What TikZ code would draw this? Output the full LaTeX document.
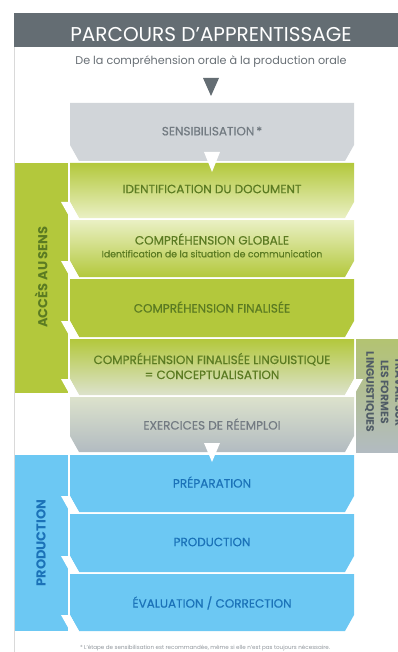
\documentclass[tikz,border=0pt]{standalone}
\usepackage{fontspec}
\setmainfont{Poppins}
\newfontfamily\poppinsmoyen{Poppins}[FakeBold=0.5]
\usetikzlibrary{positioning,calc}

\definecolor{entete}{HTML}{646D73}
\definecolor{vertfonce}{HTML}{B3C83C}
\definecolor{vertpale}{HTML}{EAF0C4}
\definecolor{textevert}{HTML}{5B7B22}
\definecolor{grisclair}{HTML}{D1D5D9}
\definecolor{grismoyen}{HTML}{B2BBC1}
\definecolor{grisvert}{HTML}{DCE2CC}
\definecolor{textegris}{HTML}{737B82}
\definecolor{textebarre}{HTML}{505C66}
\definecolor{bleu}{HTML}{6CC8F3}
\definecolor{textebleu}{HTML}{1B72B8}

\begin{document}
\begin{tikzpicture}[x=1pt, y=-1pt,
    etiquette/.style={font=\poppinsmoyen\fontsize{12}{15}\selectfont, align=center},
    petite/.style={font=\poppinsmoyen\fontsize{9.3}{11}\selectfont},
    barre/.style={font=\bfseries\fontsize{13}{15}\selectfont}]
    % 定义主要尺寸
    \def\gauche{70}
    \def\droite{354}
    \def\biseau{9}
    \def\haut{16}
    \def\milieu{212}

    % 一个步骤框(底部斜角)
    \def\etape#1#2#3{\path[#3] (\gauche,#1) -- (\droite,#1) --
        (\droite,#2-\haut) -- (\droite-\biseau,#2) --
        (\gauche+\biseau,#2) -- (\gauche,#2-\haut) -- cycle;}
    % 侧栏上的白色缺口
    \def\encocheG#1{\fill[white] (\gauche-9,#1-\haut) -- (\gauche,#1-\haut) --
        (\gauche+\biseau,#1) -- (\gauche,#1) -- cycle;}
    \def\encocheD#1{\fill[white] (\droite-\biseau,#1) -- (\droite,#1-\haut) --
        (\droite+9,#1-\haut) -- (\droite,#1) -- cycle;}

    \useasboundingbox (0,0) rectangle (398,652);

    % 标题栏
    \fill[entete] (14,13) rectangle (398,47);
    \draw[black!15, line width=1] (14,47) -- (14,652);
    \node[text=white, font=\fontsize{20}{22}\selectfont] (titre) at (211,35)
        {PARCOURS D’APPRENTISSAGE};
    \node[text=textegris!90!black, font=\fontsize{11.2}{13}\selectfont] (soustitre)
        at (211,62) {De la compréhension orale à la production orale};
    \fill[entete] (203,78) -- (219,78) -- (211,96) -- cycle;

    % 侧栏
    \fill[vertfonce] (15,163) rectangle (68,393);
    \fill[bleu] (15,455) rectangle (68,631);
    \shade[top color=vertfonce!60!grismoyen, bottom color=grismoyen] (356,339) rectangle (398,452);

    % 步骤框
    \etape{103}{161}{fill=grisclair}
    \etape{163}{218}{top color=vertfonce, bottom color=vertpale}
    \etape{220}{277}{top color=vertpale, bottom color=vertfonce}
    \etape{279}{337}{fill=vertfonce}
    \etape{339}{395}{top color=vertfonce, bottom color=grisvert}
    \etape{397}{452}{top color=grisvert, bottom color=grismoyen}
    \etape{455}{512}{fill=bleu}
    \etape{514}{572}{fill=bleu}
    \etape{574}{631}{fill=bleu}

    % 缺口
    \foreach \y in {218,277,337,395,512,572,631} {\encocheG{\y}}
    \encocheD{395}

    % 白色箭头
    \fill[white] (\milieu-8,152) -- (\milieu+8,152) -- (\milieu,172) -- cycle;
    \fill[white] (\milieu-8,443) -- (\milieu+8,443) -- (\milieu,462) -- cycle;

    % 文字
    \node[etiquette, text=textegris] (sensib) at (\milieu,131) {SENSIBILISATION\,*};
    \node[etiquette, text=textevert] (identif) at (\milieu,189) {IDENTIFICATION DU DOCUMENT};
    \node[etiquette, text=textevert] (globale) at (\milieu,239) {COMPRÉHENSION GLOBALE};
    \node[petite, text=textevert, below=-1.5pt of globale] (situation)
        {Identification de la situation de communication};
    \node[etiquette, text=textevert] (finalisee) at (\milieu,307) {COMPRÉHENSION FINALISÉE};
    \node[etiquette, text=textevert] (linguist) at (\milieu,366)
        {COMPRÉHENSION FINALISÉE LINGUISTIQUE\\= CONCEPTUALISATION};
    \node[etiquette, text=textegris] (reemploi) at (\milieu,424) {EXERCICES DE RÉEMPLOI};
    \node[etiquette, text=textebleu] (prepa) at (\milieu,482) {PRÉPARATION};
    \node[etiquette, text=textebleu] (prod) at (\milieu,542) {PRODUCTION};
    \node[etiquette, text=textebleu] (evaluation) at (\milieu,603) {ÉVALUATION / CORRECTION};

    \node[barre, text=textevert, rotate=90] (acces) at (41,277) {ACCÈS AU\ SENS};
    \node[barre, text=textebleu, rotate=90] (production) at (41,543) {PRODUCTION};
    \node[font=\bfseries\fontsize{10.8}{14.5}\selectfont, text=textebarre, align=center,
        rotate=-90] (travail) at (384,392) {TRAVAIL SUR\\LES FORMES\\LINGUISTIQUES};

    % 脚注
    \node[text=textegris!80, font=\fontsize{5.6}{6}\selectfont] (note) at (205,648)
        {* L’étape de sensibilisation est recommandée, même si elle n’est pas toujours nécessaire.};

\end{tikzpicture}
\end{document}
